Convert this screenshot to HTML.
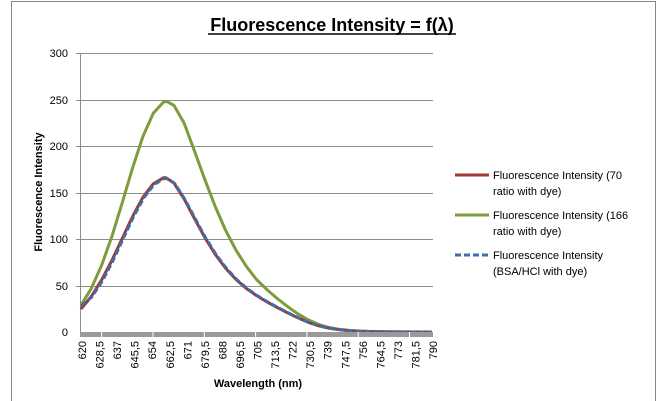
<!DOCTYPE html>
<html><head><meta charset="utf-8"><style>
body{margin:0;background:#fff;}
svg{display:block;font-family:"Liberation Sans",Calibri,sans-serif;}
</style></head><body>
<svg width="668" height="401" viewBox="0 0 668 401" xmlns="http://www.w3.org/2000/svg">
<rect x="0" y="0" width="668" height="401" fill="#fff"/>
<rect x="11.5" y="1.5" width="644" height="410" fill="none" stroke="#888" stroke-width="1"/>
<text x="332" y="31" font-size="18" font-weight="bold" text-anchor="middle">Fluorescence Intensity = f(λ)</text>
<line x1="208" y1="34" x2="456" y2="34" stroke="#000" stroke-width="1.5"/>
<g stroke="#8c8c8c" stroke-width="1">
<line x1="76" y1="53.5" x2="433" y2="53.5"/>
<line x1="76" y1="100.5" x2="433" y2="100.5"/>
<line x1="76" y1="146.5" x2="433" y2="146.5"/>
<line x1="76" y1="193.5" x2="433" y2="193.5"/>
<line x1="76" y1="239.5" x2="433" y2="239.5"/>
<line x1="76" y1="286.5" x2="433" y2="286.5"/>
<line x1="80.5" y1="53" x2="80.5" y2="334"/>
</g>
<g font-size="11" text-anchor="end" fill="#000">
<text x="68" y="57">300</text><text x="68" y="104">250</text><text x="68" y="150">200</text>
<text x="68" y="197">150</text><text x="68" y="243">100</text><text x="68" y="290">50</text><text x="68" y="336">0</text>
</g>
<text transform="translate(42,192) rotate(-90)" font-size="11" font-weight="bold" text-anchor="middle">Fluorescence Intensity</text>
<text x="258" y="387" font-size="11" font-weight="bold" text-anchor="middle">Wavelength (nm)</text>
<g fill="none" stroke-width="3" stroke-linejoin="round">
<path stroke="#7e9c3c" d="M81,305.2 L91.3,288.4 L101.6,265.3 L112,236.1 L122.3,202.6 L132.6,167.9 L142.9,136.5 L153.3,113.2 L163.6,102 L166.7,101.4 L173.9,105.3 L184.2,123.3 L194.6,151.4 L204.9,179.7 L215.2,206.5 L225.5,230.1 L235.9,250 L246.2,266.2 L256.5,279.5 L266.8,289.5 L277.2,298.5 L287.5,306.5 L297.8,313.8 L308.1,319.8 L318.5,324.4 L328.8,327.4 L339.1,329.3 L349.4,330.4 L359.8,331.1 L370.1,331.5 L390.7,331.9 L432,332"/>
<path stroke="#9b3a36" d="M81,309 L91.3,296.5 L101.6,280.1 L112,260.2 L122.3,238.3 L132.6,216.5 L142.9,197.3 L153.3,183.8 L163.6,177.7 L165.7,177.6 L173.9,182.9 L184.2,199.1 L194.6,218.8 L204.9,237.7 L215.2,254.3 L225.5,268.1 L235.9,279.4 L246.2,288.4 L256.5,295.6 L266.8,301.8 L277.2,307.5 L287.5,312.8 L297.8,317.8 L308.1,322.3 L318.5,325.8 L328.8,328.2 L339.1,329.7 L349.4,330.6 L359.8,331.2 L370.1,331.5 L390.7,331.9 L432,332"/>
<path stroke="#3f6ea6" stroke-dasharray="6,3" d="M81,306 L91.8,297 L102.4,281 L112.8,261 L123.1,239 L133.4,217 L143.7,198 L154.1,184.5 L164.4,178.5 L166.5,178.4 L174.7,183.5 L185,199.5 L195.4,219 L205.7,237.9 L216,254.5 L226.3,268.2 L236.7,279.5 L247,288.5 L257.3,295.7 L267.6,301.9 L278,307.6 L288.3,312.9 L298.6,317.9 L308.9,322.4 L319.3,325.9 L329.6,328.3 L339.9,329.8 L350.2,330.7 L360.6,331.2 L370.9,331.5 L391.5,331.9 L432,332"/>
</g>
<rect x="80" y="332" width="353" height="5" fill="#9a9a9a"/>
<g stroke="#fff" stroke-width="1">
<line x1="101.7" y1="332" x2="101.7" y2="337"/><line x1="153" y1="332" x2="153" y2="337"/>
<line x1="204.3" y1="332" x2="204.3" y2="337"/><line x1="255.6" y1="332" x2="255.6" y2="337"/>
<line x1="306.9" y1="332" x2="306.9" y2="337"/><line x1="358.2" y1="332" x2="358.2" y2="337"/>
<line x1="409.5" y1="332" x2="409.5" y2="337"/>
</g>
<g font-size="11" fill="#000" text-anchor="end">
<text transform="translate(86,341) rotate(-90)">620</text>
<text transform="translate(103.6,341) rotate(-90)">628,5</text>
<text transform="translate(121.1,341) rotate(-90)">637</text>
<text transform="translate(138.7,341) rotate(-90)">645,5</text>
<text transform="translate(156.2,341) rotate(-90)">654</text>
<text transform="translate(173.8,341) rotate(-90)">662,5</text>
<text transform="translate(191.3,341) rotate(-90)">671</text>
<text transform="translate(208.9,341) rotate(-90)">679,5</text>
<text transform="translate(226.4,341) rotate(-90)">688</text>
<text transform="translate(244,341) rotate(-90)">696,5</text>
<text transform="translate(261.5,341) rotate(-90)">705</text>
<text transform="translate(279.1,341) rotate(-90)">713,5</text>
<text transform="translate(296.6,341) rotate(-90)">722</text>
<text transform="translate(314.2,341) rotate(-90)">730,5</text>
<text transform="translate(331.7,341) rotate(-90)">739</text>
<text transform="translate(349.3,341) rotate(-90)">747,5</text>
<text transform="translate(366.8,341) rotate(-90)">756</text>
<text transform="translate(384.4,341) rotate(-90)">764,5</text>
<text transform="translate(401.9,341) rotate(-90)">773</text>
<text transform="translate(419.5,341) rotate(-90)">781,5</text>
<text transform="translate(437,341) rotate(-90)">790</text>
</g>
<g stroke-width="3">
<line x1="455" y1="175" x2="489" y2="175" stroke="#9b3a36"/>
<line x1="455" y1="215" x2="489" y2="215" stroke="#7e9c3c"/>
<line x1="455" y1="255" x2="489" y2="255" stroke="#3f6ea6" stroke-dasharray="6,3"/>
</g>
<g font-size="11" fill="#000">
<text x="493" y="179">Fluorescence Intensity (70</text><text x="493" y="195">ratio with dye)</text>
<text x="493" y="219">Fluorescence Intensity (166</text><text x="493" y="235">ratio with dye)</text>
<text x="493" y="259">Fluorescence Intensity</text><text x="493" y="275">(BSA/HCl with dye)</text>
</g>
</svg>
</body></html>
